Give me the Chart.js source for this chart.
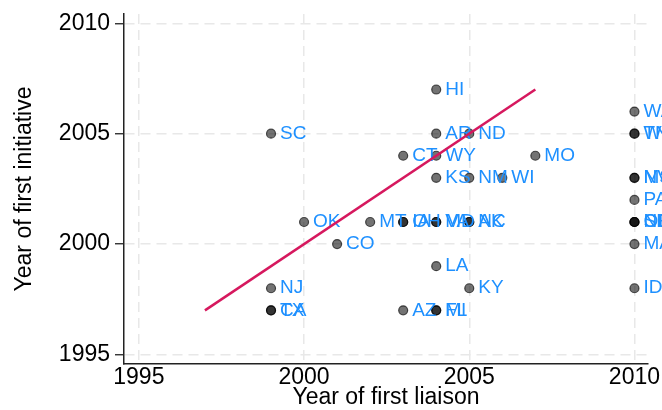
<!DOCTYPE html>
<html>
<head>
<meta charset="utf-8">
<script src="https://cdn.jsdelivr.net/npm/chart.js@4/dist/chart.umd.min.js"></script>
<style>
  html, body { margin: 0; padding: 0; background: #fff; overflow: hidden; }
  #wrap { width: 662px; height: 410px; position: relative; }
</style>
</head>
<body>
<div id="wrap"><canvas id="c"></canvas></div>
<script>
const states =         ['HI','AR','ND','SC','CT','WY','MO','KS','NM','WI','OK','MT','IA','OH','MD','VA','NC','AK','CO','LA','NJ','KY','TX','CA','AZ','FL','MI','WA','TN','WV','NV','MS','PA','OR','SD','NE','MA','ID'];
const liaisonYear =    [2004,2004,2005,1999,2003,2004,2007,2004,2005,2006,2000,2002,2003,2003,2004,2004,2005,2005,2001,2004,1999,2005,1999,1999,2003,2004,2004,2010,2010,2010,2010,2010,2010,2010,2010,2010,2010,2010];
const initiativeYear = [2007,2005,2005,2005,2004,2004,2004,2003,2003,2003,2001,2001,2001,2001,2001,2001,2001,2001,2000,1999,1998,1998,1997,1997,1997,1997,1997,2006,2005,2005,2003,2003,2002,2001,2001,2001,2000,1998];
const fitX = [1997, 2007];
const fitY = [1997, 2007];
const xTicks = [1995, 2000, 2005, 2010];
const yTicks = [1995, 2000, 2005, 2010];

const FONT = '"Liberation Sans", Arial, sans-serif';

const labelPlugin = {
  id: 'stateLabels',
  afterDatasetDraw(chart, args) {
    if (args.index !== 1) return;
    const ctx = chart.ctx;
    const meta = args.meta;
    ctx.save();
    ctx.font = '19px ' + FONT;
    ctx.fillStyle = '#1E90FF';
    ctx.textAlign = 'left';
    ctx.textBaseline = 'middle';
    meta.data.forEach((pt, i) => {
      ctx.fillText(states[i], pt.x + 9, pt.y);
    });
    ctx.restore();
  }
};

const bg = {
  id: 'bg',
  beforeDraw(chart) {
    const ctx = chart.ctx;
    ctx.save();
    ctx.fillStyle = '#fff';
    ctx.fillRect(0, 0, chart.width, chart.height);
    ctx.restore();
  }
};

new Chart(document.getElementById('c'), {
  type: 'scatter',
  data: {
    datasets: [
      {
        type: 'line',
        data: fitX.map((x, i) => ({x: x, y: fitY[i]})),
        borderColor: '#D6185E',
        borderWidth: 2.5,
        pointRadius: 0,
        fill: false,
        tension: 0
      },
      {
        data: liaisonYear.map((x, i) => ({x: x, y: initiativeYear[i]})),
        pointRadius: 4.5,
        backgroundColor: 'rgba(0,0,0,0.55)',
        borderColor: 'rgba(0,0,0,0.65)',
        borderWidth: 1.2,
        clip: false
      }
    ]
  },
  options: {
    responsive: true,
    maintainAspectRatio: false,
    animation: false,
    layout: { padding: { left: 0, right: 14, top: 14, bottom: 0 } },
    plugins: { legend: { display: false }, tooltip: { enabled: false } },
    scales: {
      x: {
        type: 'linear',
        min: 1994.55,
        max: 2010.41,
        afterBuildTicks: s => { s.ticks = xTicks.map(v => ({value: v})); },
        afterFit: s => { s.height = 46; s.paddingLeft = 0; s.paddingRight = 0; },
        ticks: {
          callback: v => String(v),
          color: '#000',
          font: { family: FONT, size: 23 },
          padding: 0,
          maxRotation: 0,
          autoSkip: false
        },
        grid: { color: '#e8e8e8', lineWidth: 1.5, drawTicks: false },
        border: { display: true, color: '#222', width: 1.5, dash: [10, 6] },
        title: {
          display: true,
          text: 'Year of first liaison',
          color: '#000',
          font: { family: FONT, size: 23 },
          padding: { top: 0, bottom: -1 }
        }
      },
      y: {
        type: 'linear',
        min: 1994.57,
        max: 2010.42,
        afterBuildTicks: s => { s.ticks = yTicks.map(v => ({value: v})); },
        afterFit: s => { s.width = 124; s.paddingTop = 0; s.paddingBottom = 0; },
        ticks: {
          callback: v => String(v),
          color: '#000',
          font: { family: FONT, size: 23 },
          padding: 5,
          autoSkip: false
        },
        grid: { color: '#e8e8e8', lineWidth: 1.5, drawTicks: true, tickLength: 9, tickColor: '#222', tickWidth: 1.3 },
        border: { display: true, color: '#222', width: 1.5, dash: [10, 6] },
        title: {
          display: true,
          text: 'Year of first initiative',
          color: '#000',
          font: { family: FONT, size: 23 },
          padding: { top: 11, bottom: 0 }
        }
      }
    }
  },
  plugins: [bg, labelPlugin]
});
</script>
</body>
</html>
